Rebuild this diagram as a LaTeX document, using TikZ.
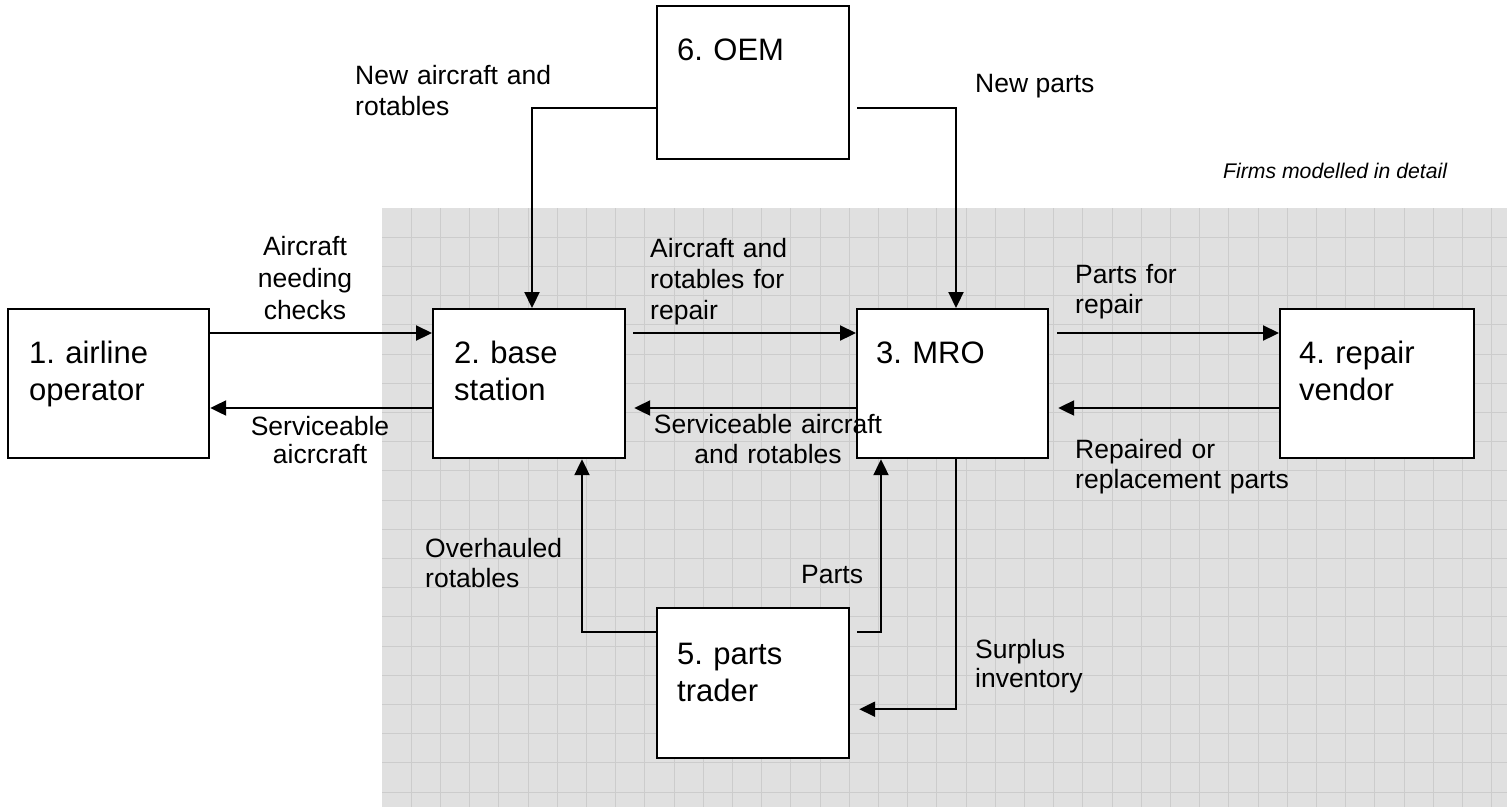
\documentclass[tikz,border=0pt]{standalone}
\usepackage{fontspec}
\setmainfont{Liberation Sans}
\usetikzlibrary{arrows.meta}
\definecolor{panel}{RGB}{224,224,224}
\definecolor{gridline}{RGB}{204,204,204}
\frenchspacing
\begin{document}
\begin{tikzpicture}[x=1pt,y=-1pt,
  firm/.style={draw=black, fill=white, line width=2.2pt, inner sep=0pt, anchor=north west},
  firmtext/.style={inner sep=0pt, anchor=base west, text width=170pt, align=left,
    font=\fontsize{31}{37}\selectfont},
  lbl/.style={inner sep=0pt, font=\fontsize{26.5}{#1}\selectfont},
  lbl/.default=30,
  flow/.style={line width=2.2pt, -{Triangle[length=16pt,width=15pt]}}]
\useasboundingbox (0,0) rectangle (1507,807);

% shaded panel with grid for the firms modelled in detail
\fill[panel] (382,208) rectangle (1507,807);
\foreach \i in {1,...,38} \draw[gridline, line width=1pt] (382+\i*29.2,208) -- (382+\i*29.2,807);
\foreach \j in {1,...,20} \draw[gridline, line width=1pt] (382,208+\j*29.2) -- (1507,208+\j*29.2);
\node[lbl, anchor=base west, font=\fontsize{21.2}{25}\selectfont\itshape] (note) at (1223,178) {Firms modelled in detail};

% firms
\node[firm, minimum width=201pt, minimum height=149pt] (b1) at (7,308) {};
\node[firm, minimum width=192pt, minimum height=149pt] (b2) at (432,308) {};
\node[firm, minimum width=191pt, minimum height=149pt] (b3) at (856,308) {};
\node[firm, minimum width=194pt, minimum height=149pt] (b4) at (1279,308) {};
\node[firm, minimum width=192pt, minimum height=150pt] (b5) at (656,607) {};
\node[firm, minimum width=192pt, minimum height=153pt] (b6) at (656,5) {};

\node[firmtext] (t1) at ([xshift=22pt,yshift=-55pt]b1.north west) {1. airline\\operator};
\node[firmtext] (t2) at ([xshift=22pt,yshift=-55pt]b2.north west) {2. base\\station};
\node[firmtext] (t3) at ([xshift=20pt,yshift=-55pt]b3.north west) {3. MRO};
\node[firmtext] (t4) at ([xshift=20pt,yshift=-55pt]b4.north west) {4. repair\\vendor};
\node[firmtext] (t5) at ([xshift=21pt,yshift=-57pt]b5.north west) {5. parts\\trader};
\node[firmtext] (t6) at ([xshift=21pt,yshift=-55pt]b6.north west) {6. OEM};

% flows between firms
\draw[flow] ([yshift=-25pt]b1.north east) -- ([yshift=-25pt]b2.north west);
\draw[flow] ([yshift=-100pt]b2.north west) -- ([yshift=-100pt]b1.north east);
\draw[flow] ([xshift=7pt,yshift=-25pt]b2.north east) -- ([yshift=-25pt]b3.north west);
\draw[flow] ([yshift=-100pt]b3.north west) -- ([xshift=8pt,yshift=-100pt]b2.north east);
\draw[flow] ([xshift=8pt,yshift=-25pt]b3.north east) -- ([yshift=-25pt]b4.north west);
\draw[flow] ([yshift=-100pt]b4.north west) -- ([xshift=9pt,yshift=-100pt]b3.north east);
\draw[flow] ([yshift=-103pt]b6.north west) -| ([xshift=100pt]b2.north west);
\draw[flow] ([xshift=7pt,yshift=-103pt]b6.north east) -| ([xshift=100pt]b3.north west);
\draw[flow] ([xshift=100pt]b3.south west) |- ([xshift=9pt,yshift=50pt]b5.south east);
\draw[flow] ([yshift=-25pt]b5.north west) -| ([xshift=150pt]b2.south west);
\draw[flow] ([xshift=7pt,yshift=-25pt]b5.north east) -| ([xshift=25pt]b3.south west);

% flow labels
\node[lbl=32, anchor=base, text width=160pt, align=center] (l12) at (305,255) {Aircraft\\needing\\checks};
\node[lbl=28, anchor=base, text width=160pt, align=center] (l21) at (320,435) {Serviceable\\aicrcraft};
\node[lbl=31, anchor=base west, text width=200pt, align=left] (l23) at (650,257) {Aircraft and\\rotables for\\repair};
\node[lbl, anchor=base, text width=260pt, align=center] (l32) at (768,433) {Serviceable aircraft\\and rotables};
\node[lbl, anchor=base west, text width=200pt, align=left] (l34) at (1075,283) {Parts for\\repair};
\node[lbl, anchor=base west, text width=240pt, align=left] (l43) at (1075,458) {Repaired or\\replacement parts};
\node[lbl, anchor=base west, text width=160pt, align=left] (l52) at (425,557) {Overhauled\\rotables};
\node[lbl, anchor=base west] (l53) at (801,583) {Parts};
\node[lbl=29, anchor=base west, text width=160pt, align=left] (l35) at (975,658) {Surplus\\inventory};
\node[lbl=31, anchor=base west, text width=220pt, align=left] (l62) at (355,84) {New aircraft and\\rotables};
\node[lbl, anchor=base west] (l63) at (975,92) {New parts};
\end{tikzpicture}
\end{document}
